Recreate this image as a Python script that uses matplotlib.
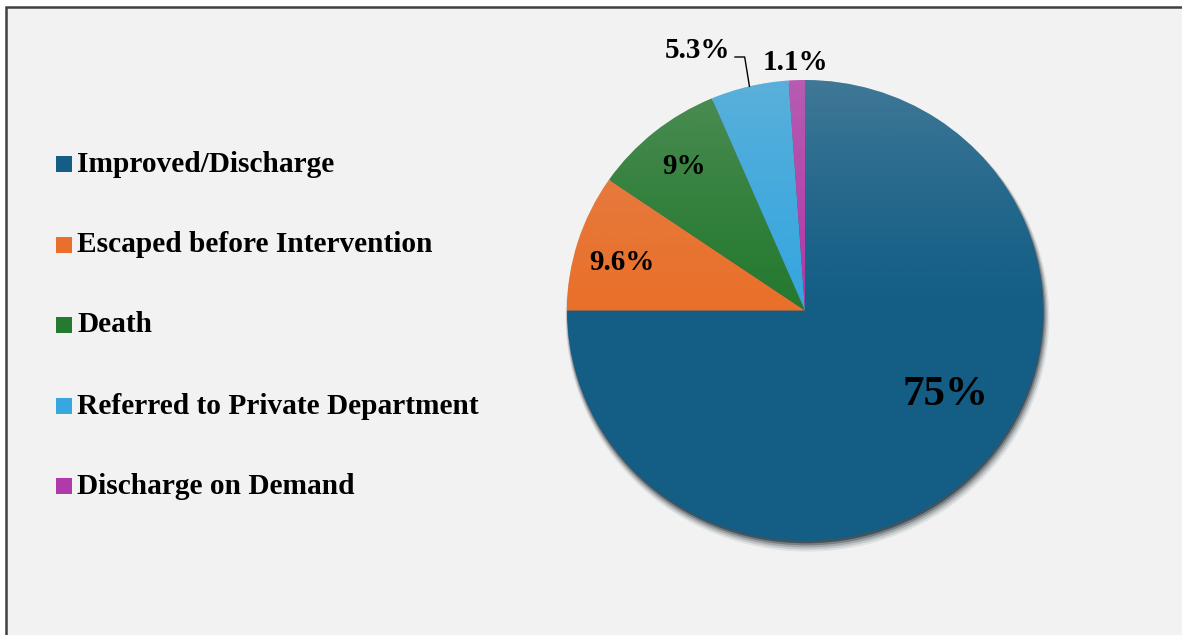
import numpy as np
import matplotlib
matplotlib.use("Agg")
import matplotlib.pyplot as plt
from matplotlib.patches import Rectangle, Circle

categories = ["Improved/Discharge", "Escaped before Intervention", "Death",
              "Referred to Private Department", "Discharge on Demand"]
values = [75, 9.6, 9, 5.3, 1.1]
colors = ["#145e86", "#e9702b", "#267a30", "#36a7df", "#b03aa9"]

W, H = 1182, 635
fig = plt.figure(figsize=(W / 100, H / 100), dpi=100)
fig.patch.set_facecolor("white")

# chart area with dark frame on top / left
fig.patches.append(Rectangle((6 / W, -0.05), 1.1, 1 - 7 / H + 0.05,
                             transform=fig.transFigure, facecolor="#f2f2f2",
                             edgecolor="#404040", linewidth=1.8, zorder=-10))

# pie axes (slightly elliptical, like the source chart)
px0, px1, py0, py1 = 567, 1043, 80, 541
ax = fig.add_axes([px0 / W, (H - py1) / H, (px1 - px0) / W, (py1 - py0) / H])
ax.set_facecolor("none")
cx, cy = (px0 + px1) / 2, (py0 + py1) / 2
rx, ry_ = (px1 - px0) / 2, (py1 - py0) / 2


def to_data(px, py):
    return (px - cx) / rx, (cy - py) / ry_


# soft drop shadow
for i, a in enumerate([0.08, 0.12, 0.18, 0.28, 0.45]):
    off = 0.030 - i * 0.005
    ax.add_patch(Circle((off * 0.35, -off), 1.0 + 0.004 * (4 - i), facecolor="#0a1a24",
                        alpha=a, linewidth=0, zorder=0, clip_on=False))

wedges, _ = ax.pie(values, colors=colors, startangle=90, counterclock=False,
                   wedgeprops=dict(linewidth=0), radius=1.0)
for w in wedges:
    w.set_zorder(1)

# light top-to-bottom sheen
ny = 300
yy = np.linspace(1, -1, ny)[:, None] * np.ones((1, 300))
grad = np.zeros((ny, 300, 4))
grad[..., :3] = 0.8
grad[..., 3] = np.clip(yy, 0, 1) ** 1.3 * 0.24
img = ax.imshow(grad, extent=(-1, 1, -1, 1), zorder=2, aspect="auto")
img.set_clip_path(Circle((0, 0), 1.0, transform=ax.transData))

ax.set_aspect("auto")
ax.set_xlim(-1, 1)
ax.set_ylim(-1, 1)
ax.axis("off")

# percentage labels
label_px = [(945, 395), (622, 263), (684, 166), (698, 50), (795, 62)]
label_size = [31, 21, 21, 21, 21]
for v, (lx, ly), fs in zip(values, label_px, label_size):
    dx, dy = to_data(lx, ly)
    ax.text(dx, dy, f"{v:g}%", ha="center", va="center", fontsize=fs,
            fontweight="bold", family="Liberation Serif", color="black", zorder=5,
            clip_on=False)

# leader line for the small "Referred" slice
w = wedges[3]
mid = np.deg2rad((w.theta1 + w.theta2) / 2)
ex, ey = np.cos(mid), np.sin(mid)
sx, sy = to_data(735, 57)
ax.plot([sx, ex - 0.02, ex], [sy, sy, ey], color="black", lw=1.0,
        zorder=5, clip_on=False)

# legend
row_y = [164, 245, 325, 406, 486]
for name, col, ry in zip(categories, colors, row_y):
    fig.patches.append(Rectangle((56 / W, (H - ry - 8) / H), 16 / W, 16 / H,
                                 transform=fig.transFigure, facecolor=col,
                                 edgecolor="none", zorder=3))
    fig.text(77 / W, (H - ry) / H, name, ha="left", va="center", fontsize=21.2,
             fontweight="bold", family="Liberation Serif", color="black")

fig.savefig("out.png", dpi=100, facecolor=fig.get_facecolor())
